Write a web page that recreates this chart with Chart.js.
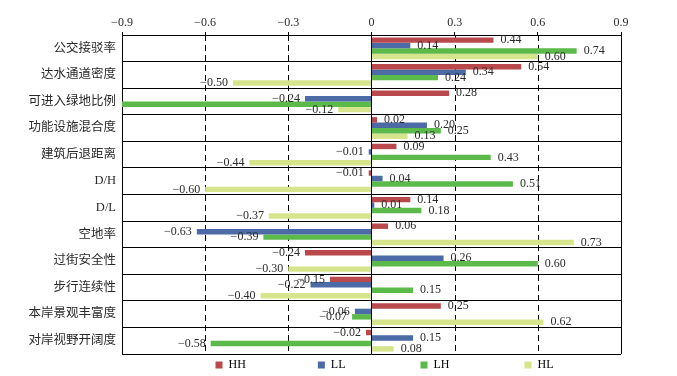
<!DOCTYPE html>
<html><head><meta charset="utf-8">
<script src="https://cdn.jsdelivr.net/npm/chart.js@4/dist/chart.umd.min.js"></script>
<style>html,body{margin:0;padding:0;background:#fff;}</style>
</head><body>
<canvas id="c" width="677" height="376"></canvas>
<script>
const categories = ['公交接驳率','达水通道密度','可进入绿地比例','功能设施混合度','建筑后退距离','D/H','D/L','空地率','过街安全性','步行连续性','本岸景观丰富度','对岸视野开阔度'];
const seriesNames = ['HH','LL','LH','HL'];
const HH = [0.44, 0.54, 0.28, 0.02, 0.09, -0.01, 0.14, 0.06, -0.24, -0.15, 0.25, -0.02];
const LL = [0.14, 0.34, -0.24, 0.20, -0.01, 0.04, 0.01, -0.63, 0.26, -0.22, -0.06, 0.15];
const LH = [0.74, 0.24, -0.90, 0.25, 0.43, 0.51, 0.18, -0.39, 0.60, 0.15, -0.07, -0.58];
const HL = [0.60, -0.50, -0.12, 0.13, -0.44, -0.60, -0.37, 0.73, -0.30, -0.40, 0.62, 0.08];
const xTicks = [-0.9, -0.6, -0.3, 0, 0.3, 0.6, 0.9];
const dashedTicks = [-0.6, -0.3, 0.3, 0.6];
const seriesColors = ['#b9494c', '#4b6aa6', '#5cba4a', '#d6e48c'];

const serif = '"Liberation Serif", "Times New Roman", serif';
const fmtTick = v => (v < 0 ? '\u2212' : '') + (v === 0 ? '0' : Math.abs(v).toFixed(1));
const fmtVal = v => (v < 0 ? '\u2212' : '') + Math.abs(v).toFixed(2);

const dashPlugin = {
  id: 'dashGrid',
  beforeDatasetsDraw(chart) {
    const {ctx, chartArea, scales} = chart;
    ctx.save();
    ctx.strokeStyle = '#000';
    ctx.lineWidth = 1;
    ctx.setLineDash([6, 4]);
    dashedTicks.forEach(v => {
      const x = Math.round(scales.x.getPixelForValue(v)) + 0.5;
      ctx.beginPath();
      ctx.moveTo(x, chartArea.top);
      ctx.lineTo(x, chartArea.bottom);
      ctx.stroke();
    });
    ctx.restore();
  }
};

const labelPlugin = {
  id: 'valueLabels',
  afterDatasetsDraw(chart) {
    const {ctx, chartArea} = chart;
    ctx.save();
    ctx.font = '12px ' + serif;
    ctx.fillStyle = '#2a2a2a';
    ctx.textBaseline = 'middle';
    chart.data.datasets.forEach((ds, di) => {
      const meta = chart.getDatasetMeta(di);
      meta.data.forEach((el, i) => {
        const v = ds.data[i];
        if (el.x <= chartArea.left + 1 || el.x >= chartArea.right - 1) return;
        if (v >= 0) { ctx.textAlign = 'left'; ctx.fillText(fmtVal(v), el.x + 7, el.y); }
        else { ctx.textAlign = 'right'; ctx.fillText(fmtVal(v), el.x - 5, el.y); }
      });
    });
    ctx.restore();
  }
};

const legendShift = {
  id: 'legendShift',
  afterLayout(chart) {
    const lg = chart.legend;
    if (lg) { lg.left += 13; lg.right += 13; lg.top += 5; lg.bottom += 5; }
  }
};

const padNames = ['HH' + ' '.repeat(24), 'LL' + ' '.repeat(25), 'LH' + ' '.repeat(25), 'HL'];

const seriesData = [HH, LL, LH, HL];
new Chart(document.getElementById('c'), {
  type: 'bar',
  data: {
    labels: categories,
    datasets: seriesNames.map((n, k) => ({
      label: n,
      data: seriesData[k],
      backgroundColor: seriesColors[k],
      borderWidth: 0,
      categoryPercentage: 0.82,
      barPercentage: 1.0
    }))
  },
  options: {
    indexAxis: 'y',
    responsive: false,
    devicePixelRatio: 1,
    animation: false,
    layout: { padding: { left: 0, right: 56, top: 0, bottom: 0 } },
    scales: {
      x: {
        type: 'linear',
        position: 'top',
        min: -0.9, max: 0.9,
        afterBuildTicks: s => { s.ticks = xTicks.map(v => ({value: v})); },
        afterFit: s => { s.height = 35; },
        ticks: {
          callback: v => fmtTick(v),
          font: { family: serif, size: 12 },
          color: '#2a2a2a',
          padding: 2,
          maxRotation: 0
        },
        grid: {
          color: c => (c.tick && (c.tick.value === 0 || Math.abs(c.tick.value) === 0.9)) ? '#000' : 'rgba(0,0,0,0)',
          tickColor: '#000',
          tickLength: 3,
          lineWidth: 1
        },
        border: { display: true, color: '#000', width: 1 }
      },
      y: {
        type: 'category',
        afterFit: s => { s.width = 122; },
        ticks: {
          font: { family: '"Liberation Serif", "Noto Sans CJK SC", serif', size: 12.5 },
          color: '#2a2a2a',
          padding: 6
        },
        grid: { color: '#000', offset: true, drawTicks: false, lineWidth: 1 },
        border: { display: true, color: '#000', width: 1 }
      }
    },
    plugins: {
      tooltip: { enabled: false },
      legend: {
        position: 'bottom',
        fullSize: false,
        labels: {
          boxWidth: 7,
          boxHeight: 7,
          padding: 0,
          color: '#2a2a2a',
          font: { family: serif, size: 12 },
          generateLabels: chart => chart.data.datasets.map((ds, i) => ({
            text: padNames[i],
            fillStyle: ds.backgroundColor,
            strokeStyle: ds.backgroundColor,
            lineWidth: 0,
            hidden: false,
            datasetIndex: i
          }))
        }
      }
    }
  },
  plugins: [dashPlugin, labelPlugin, legendShift]
});
</script>
</body></html>
